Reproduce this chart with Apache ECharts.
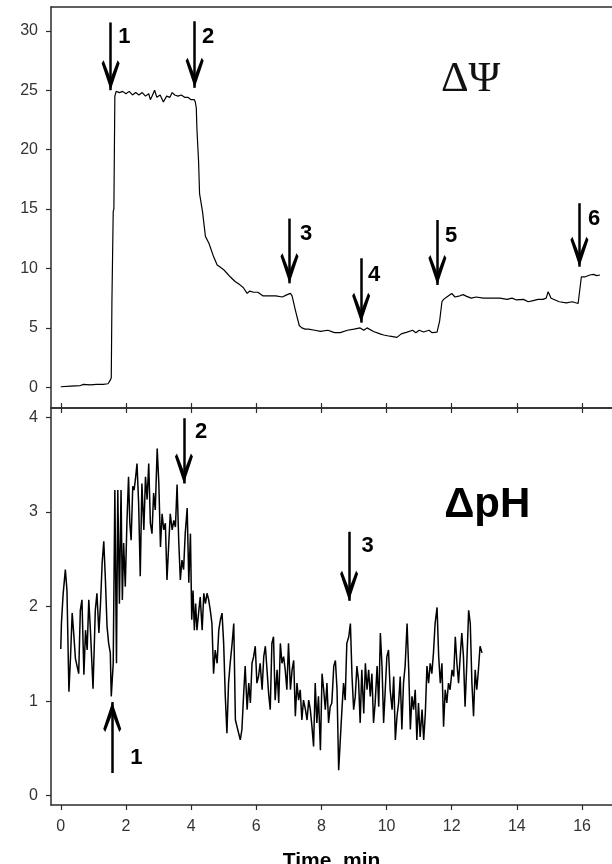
<!DOCTYPE html>
<html>
<head>
<meta charset="utf-8">
<script src="https://cdn.jsdelivr.net/npm/echarts@6/dist/echarts.min.js"></script>
<style>
  html, body { margin: 0; padding: 0; background: #fff; }
  #chart { width: 612px; height: 864px; }
</style>
</head>
<body>
<div id="chart"></div>
<script>
// axis ticks
var xTicks = [0, 2, 4, 6, 8, 10, 12, 14, 16];
var psiTicks = [0, 5, 10, 15, 20, 25, 30];
var phTicks = [0, 1, 2, 3, 4];

// membrane potential trace (top panel)
var psiTime = [0.0, 0.3, 0.6, 0.7, 0.9, 1.1, 1.3, 1.45, 1.52, 1.55, 1.57, 1.61, 1.63, 1.66, 1.70,
  1.8, 1.9, 2.0, 2.1, 2.2, 2.3, 2.4, 2.5, 2.6, 2.7, 2.75, 2.8, 2.88, 2.95, 3.05, 3.15, 3.25, 3.35,
  3.42, 3.5, 3.6, 3.7, 3.8, 3.9, 4.0, 4.1, 4.13, 4.16, 4.18, 4.23, 4.26, 4.35, 4.44, 4.55, 4.69,
  4.8, 4.9, 5.0, 5.1, 5.2, 5.35, 5.51, 5.6, 5.72, 5.8, 5.92, 6.05, 6.2, 6.4, 6.6, 6.8, 6.95, 7.05,
  7.1, 7.2, 7.32, 7.4, 7.5, 7.6, 7.8, 7.97, 8.2, 8.4, 8.58, 8.8, 9.0, 9.19, 9.3, 9.4, 9.6, 9.8,
  9.91, 10.1, 10.32, 10.45, 10.63, 10.8, 10.9, 11.0, 11.14, 11.3, 11.4, 11.55, 11.6, 11.63, 11.7,
  11.75, 11.85, 12.0, 12.1, 12.25, 12.35, 12.46, 12.6, 12.75, 12.97, 13.2, 13.48, 13.7, 13.85,
  13.99, 14.2, 14.35, 14.5, 14.65, 14.8, 14.9, 14.96, 15.05, 15.11, 15.3, 15.52, 15.7, 15.88,
  15.93, 15.98, 16.1, 16.24, 16.35, 16.45, 16.55];
var psiValue = [0.05, 0.1, 0.15, 0.25, 0.2, 0.25, 0.25, 0.3, 0.6, 0.8, 7.2, 14.8, 15.0, 24.5, 24.9,
  24.8, 24.9, 24.7, 24.9, 24.6, 24.8, 24.6, 24.8, 24.5, 24.7, 24.2, 24.5, 25.0, 24.4, 24.6, 24.0,
  24.5, 24.4, 24.8, 24.6, 24.5, 24.6, 24.4, 24.4, 24.2, 24.2, 24.0, 23.5, 21.7, 19.0, 16.3, 14.8,
  12.7, 12.1, 11.0, 10.3, 10.1, 9.9, 9.6, 9.3, 8.9, 8.6, 8.4, 7.9, 8.1, 8.0, 8.0, 7.7, 7.7, 7.7,
  7.6, 7.8, 7.9, 7.7, 6.5, 5.2, 5.0, 4.9, 4.9, 4.8, 4.7, 4.8, 4.6, 4.6, 4.8, 4.9, 5.0, 4.8, 5.0,
  4.7, 4.5, 4.4, 4.3, 4.2, 4.5, 4.65, 4.8, 4.6, 4.8, 4.65, 4.8, 4.6, 4.65, 4.8, 5.6, 7.2, 7.4,
  7.6, 7.9, 7.6, 7.7, 7.8, 7.65, 7.5, 7.6, 7.5, 7.5, 7.5, 7.4, 7.5, 7.35, 7.4, 7.2, 7.3, 7.4,
  7.4, 7.5, 8.05, 7.5, 7.35, 7.2, 7.1, 7.2, 7.05, 7.1, 9.3, 9.3, 9.45, 9.5, 9.4, 9.45];

// pH gradient trace (bottom panel)
var phTime = [0.00, 0.02, 0.07, 0.14, 0.19, 0.25, 0.30, 0.35, 0.40, 0.45, 0.50, 0.55, 0.60, 0.65,
  0.71, 0.76, 0.81, 0.86, 0.91, 0.99, 1.06, 1.11, 1.17, 1.22, 1.27, 1.32, 1.37, 1.42, 1.47, 1.52,
  1.55, 1.61, 1.66, 1.71, 1.75, 1.80, 1.85, 1.89, 1.93, 1.98, 2.03, 2.08, 2.12, 2.16, 2.21, 2.25,
  2.29, 2.34, 2.39, 2.44, 2.49, 2.55, 2.60, 2.65, 2.70, 2.75, 2.80, 2.85, 2.90, 2.96, 3.01, 3.06,
  3.11, 3.16, 3.21, 3.26, 3.31, 3.36, 3.42, 3.47, 3.52, 3.57, 3.62, 3.67, 3.72, 3.77, 3.82, 3.88,
  3.93, 3.98, 4.02, 4.06, 4.10, 4.14, 4.18, 4.23, 4.28, 4.34, 4.39, 4.44, 4.49, 4.54, 4.59, 4.64,
  4.69, 4.74, 4.80, 4.85, 4.90, 4.95, 5.00, 5.05, 5.10, 5.15, 5.20, 5.26, 5.31, 5.36, 5.41, 5.46,
  5.51, 5.56, 5.61, 5.66, 5.72, 5.77, 5.82, 5.87, 5.92, 5.97, 6.02, 6.07, 6.12, 6.18, 6.23, 6.28,
  6.33, 6.38, 6.43, 6.48, 6.53, 6.58, 6.64, 6.69, 6.74, 6.79, 6.84, 6.89, 6.94, 6.99, 7.05, 7.10,
  7.15, 7.20, 7.25, 7.30, 7.35, 7.40, 7.45, 7.51, 7.56, 7.61, 7.66, 7.71, 7.76, 7.81, 7.86, 7.91,
  7.97, 8.02, 8.07, 8.12, 8.17, 8.22, 8.27, 8.32, 8.38, 8.43, 8.48, 8.53, 8.58, 8.63, 8.68, 8.73,
  8.78, 8.84, 8.89, 8.94, 8.99, 9.04, 9.09, 9.14, 9.19, 9.24, 9.30, 9.35, 9.40, 9.45, 9.50, 9.55,
  9.60, 9.65, 9.71, 9.76, 9.81, 9.86, 9.91, 9.96, 10.01, 10.06, 10.11, 10.17, 10.22, 10.27, 10.32,
  10.37, 10.42, 10.47, 10.52, 10.57, 10.63, 10.68, 10.73, 10.78, 10.83, 10.88, 10.93, 10.98,
  11.03, 11.09, 11.14, 11.19, 11.24, 11.29, 11.34, 11.39, 11.44, 11.49, 11.55, 11.60, 11.65,
  11.70, 11.75, 11.80, 11.85, 11.90, 11.95, 12.01, 12.06, 12.11, 12.16, 12.21, 12.26, 12.31,
  12.36, 12.41, 12.46, 12.52, 12.57, 12.62, 12.67, 12.72, 12.77, 12.82, 12.87, 12.93];
var phValue = [1.55, 1.82, 2.12, 2.39, 2.17, 1.10, 1.47, 1.93, 1.70, 1.45, 1.37, 1.29, 1.96, 2.07,
  1.28, 1.75, 1.54, 2.07, 1.75, 1.13, 1.96, 2.14, 1.72, 2.03, 2.46, 2.69, 2.28, 1.79, 1.61, 1.51,
  1.05, 1.40, 3.23, 1.40, 3.23, 2.03, 3.23, 2.07, 2.67, 2.21, 2.88, 3.37, 2.88, 2.70, 3.27, 3.23,
  3.34, 3.51, 3.09, 2.32, 3.30, 2.81, 3.37, 3.13, 3.51, 2.88, 2.77, 3.20, 3.02, 3.67, 3.30, 2.63,
  2.98, 2.81, 2.88, 2.28, 2.63, 2.98, 2.81, 2.91, 2.84, 3.29, 2.70, 2.28, 2.49, 2.39, 2.77, 3.04,
  2.25, 2.77, 1.86, 2.17, 1.75, 2.03, 1.75, 1.93, 2.10, 1.75, 2.14, 2.03, 2.14, 2.07, 1.96, 1.82,
  1.29, 1.54, 1.40, 1.75, 1.86, 1.93, 1.61, 1.05, 0.66, 1.19, 1.40, 1.61, 1.82, 0.80, 0.73, 0.66,
  0.59, 0.70, 1.05, 1.37, 0.91, 1.19, 0.98, 1.40, 1.47, 1.58, 1.19, 1.26, 1.40, 1.12, 1.47, 1.58,
  1.33, 1.08, 0.91, 1.61, 1.68, 1.01, 1.33, 0.98, 1.61, 1.40, 1.47, 1.33, 1.12, 1.61, 1.12, 1.33,
  1.43, 0.84, 1.19, 1.01, 1.12, 0.80, 1.01, 0.91, 0.80, 1.01, 0.91, 0.73, 0.52, 1.19, 0.77, 1.05,
  0.48, 1.29, 1.12, 0.91, 1.19, 0.77, 0.94, 0.98, 1.37, 1.43, 1.12, 0.27, 0.59, 0.91, 1.19, 1.01,
  1.61, 1.68, 1.82, 1.26, 0.91, 1.05, 1.37, 1.22, 0.77, 1.33, 0.87, 1.40, 1.12, 1.33, 1.05, 1.29,
  0.77, 0.98, 1.37, 0.94, 1.72, 1.37, 0.77, 1.12, 1.47, 1.54, 1.12, 0.91, 1.26, 0.59, 0.84,
  0.98, 1.26, 0.70, 1.19, 1.37, 1.82, 1.33, 0.70, 1.05, 0.91, 1.12, 0.59, 0.98,
  0.62, 0.91, 0.59, 0.87, 1.37, 1.19, 1.40, 1.29, 1.51, 1.82, 1.99, 1.47, 1.19,
  1.40, 0.73, 1.12, 0.98, 1.19, 1.12, 1.33, 1.26, 1.68, 1.40, 1.19, 1.47, 1.72,
  1.47, 0.94, 1.37, 1.96, 1.82, 1.19, 0.84, 1.33, 1.12, 1.33, 1.58, 1.51];

// additions (arrows): time, arrow top, arrow tip, number
var psiArrowTime = [1.53, 4.11, 7.02, 9.22, 11.56, 15.92];
var psiArrowTop = [30.7, 30.8, 14.2, 10.86, 14.08, 15.49];
var psiArrowTip = [25.0, 25.2, 8.75, 5.44, 8.61, 10.15];
var psiArrowName = ['1', '2', '3', '4', '5', '6'];
var psiNameAt = [[1.95, 29.5], [4.52, 29.5], [7.53, 12.9], [9.62, 9.45], [11.98, 12.75], [16.37, 14.17]];

var phArrowTime = [1.58, 3.78, 8.85];
var phArrowTop = [0.24, 3.99, 2.79];
var phArrowTip = [0.99, 3.30, 2.06];
var phArrowName = ['1', '2', '3'];
var phNameAt = [[2.32, 0.40], [4.31, 3.84], [9.42, 2.64]];

var FONT = '"Liberation Sans", Arial, sans-serif';
var AXIS_COLOR = '#2b2b2b';
var arrowHead = 'path://M0,0 L9,27 L7,30 L0,12 L-7,30 L-9,27 Z';

function zip(a, b) { return a.map(function (v, i) { return [v, b[i]]; }); }

function arrowLines(t, from, to) {
  return t.map(function (x, i) { return [{ coord: [x, from[i]] }, { coord: [x, to[i]] }]; });
}

// text placed at a data point, centred on it
function textSeries(xi, yi, names, at, style) {
  return {
    type: 'scatter', xAxisIndex: xi, yAxisIndex: yi, symbolSize: 0, silent: true,
    itemStyle: { color: '#000', opacity: 1 },
    data: names.map(function (n, i) { return { value: at[i], name: n }; }),
    label: Object.assign({ show: true, position: [0, 0], align: 'center', verticalAlign: 'middle',
      formatter: '{b}', color: '#000', textBorderWidth: 0, opacity: 1 }, style)
  };
}

var myChart = echarts.init(document.getElementById('chart'), null, { renderer: 'canvas' });

function xAxisBase(grid, pos) {
  return {
    type: 'value', gridIndex: grid, position: pos, min: -0.3, max: 16.92,
    axisLine: { show: true, onZero: false, lineStyle: { color: AXIS_COLOR, width: 1.5 } },
    axisTick: { show: true, inside: false, length: 5, customValues: xTicks,
      lineStyle: { color: AXIS_COLOR, width: 1.2 } },
    axisLabel: { show: false },
    splitLine: { show: false }
  };
}

var xBottom = xAxisBase(1, 'bottom');
xBottom.axisLabel = { show: true, customValues: xTicks, margin: 14, fontSize: 16,
  color: '#333', fontFamily: FONT };
xBottom.name = 'Time, min';
xBottom.nameLocation = 'middle';
xBottom.nameGap = 46;
xBottom.nameTextStyle = { fontFamily: FONT, fontWeight: 'bold', fontSize: 21, color: '#000' };

var xTop = xAxisBase(0, 'top');
xTop.axisTick = { show: false };

function yAxisBase(grid, min, max, ticks) {
  return {
    type: 'value', gridIndex: grid, min: min, max: max,
    axisLine: { show: true, onZero: false, lineStyle: { color: AXIS_COLOR, width: 1.5 } },
    axisTick: { show: true, inside: false, length: 5, customValues: ticks,
      lineStyle: { color: AXIS_COLOR, width: 1.2 } },
    axisLabel: { show: true, customValues: ticks, margin: 13, fontSize: 16,
      color: '#333', fontFamily: FONT },
    splitLine: { show: false }
  };
}

var arrowStyle = {
  silent: true, symbol: ['none', arrowHead], symbolSize: [18, 30],
  symbolOffset: [[0, 0], [0, 15]],
  lineStyle: { color: '#000', width: 2.5, type: 'solid', opacity: 1 },
  label: { show: false }
};

var option = {
  animation: false,
  backgroundColor: '#fff',
  grid: [
    { left: 51, right: 0, top: 7, height: 401, containLabel: false, outerBoundsMode: 'none' },
    { left: 51, right: 0, top: 408, bottom: 59, containLabel: false, outerBoundsMode: 'none' }
  ],
  xAxis: [xAxisBase(0, 'bottom'), xTop, xAxisBase(1, 'top'), xBottom],
  yAxis: [yAxisBase(0, -1.74, 32.0, psiTicks), yAxisBase(1, -0.098, 4.098, phTicks)],
  series: [
    {
      name: 'ΔΨ', type: 'line', xAxisIndex: 0, yAxisIndex: 0, showSymbol: false, silent: true,
      data: zip(psiTime, psiValue),
      lineStyle: { color: '#000', width: 1.2 },
      markLine: Object.assign({ data: arrowLines(psiArrowTime, psiArrowTop, psiArrowTip) }, arrowStyle)
    },
    {
      name: 'ΔpH', type: 'line', xAxisIndex: 3, yAxisIndex: 1, showSymbol: false, silent: true,
      data: zip(phTime, phValue),
      lineStyle: { color: '#000', width: 1.5 },
      markLine: Object.assign({ data: arrowLines(phArrowTime, phArrowTop, phArrowTip) }, arrowStyle)
    },
    textSeries(0, 0, psiArrowName, psiNameAt,
      { fontFamily: FONT, fontWeight: 'bold', fontSize: 22 }),
    textSeries(3, 1, phArrowName, phNameAt,
      { fontFamily: FONT, fontWeight: 'bold', fontSize: 22 }),
    textSeries(0, 0, ['ΔΨ'], [[12.58, 25.9]],
      { fontFamily: '"Liberation Serif", "DejaVu Serif", serif', fontSize: 43, color: '#111' }),
    textSeries(3, 1, ['ΔpH'], [[13.09, 3.07]],
      { fontFamily: FONT, fontWeight: 'bold', fontSize: 42 })
  ]
};

myChart.setOption(option);
</script>
</body>
</html>
